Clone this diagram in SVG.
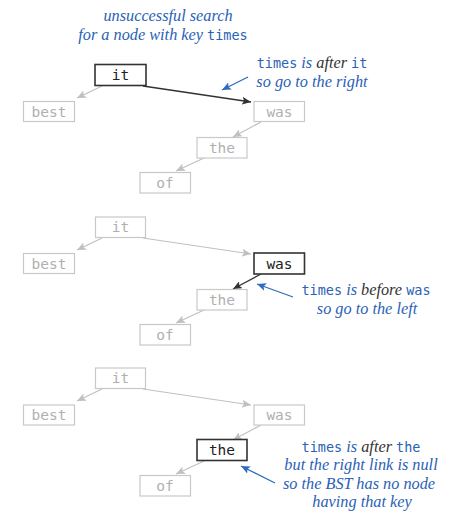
<svg xmlns="http://www.w3.org/2000/svg" width="464" height="516" viewBox="0 0 464 516">
<defs>
<style>
.box{fill:#fff;stroke:#c8c8c8;stroke-width:1.2}
.hbox{fill:#fff;stroke:#333;stroke-width:1.6}
.lbl{font-family:"DejaVu Sans Mono","Liberation Mono",monospace;font-size:14.5px;fill:#b0b0b0;text-anchor:middle}
.hlbl{font-family:"DejaVu Sans Mono","Liberation Mono",monospace;font-size:14.5px;fill:#222;text-anchor:middle}
.edge{stroke:#c0c0c0;stroke-width:1.2;fill:none;marker-end:url(#ag)}
.hedge{stroke:#333;stroke-width:1.3;fill:none;marker-end:url(#ad)}
.bedge{stroke:#2f6bc0;stroke-width:1.3;fill:none;marker-end:url(#ab)}
.note{font-family:"Liberation Serif",serif;font-style:italic;font-size:16.3px;fill:#2a62b5;text-anchor:middle}
.mono{font-family:"DejaVu Sans Mono","Liberation Mono",monospace;font-style:normal;font-size:13.5px}
.dk{fill:#333}
</style>
<marker id="ag" markerWidth="10" markerHeight="8" refX="9" refY="4" orient="auto" markerUnits="userSpaceOnUse"><path d="M0,0 L9,4 L0,8 L2,4 z" fill="#c0c0c0"/></marker>
<marker id="ad" markerWidth="10" markerHeight="8" refX="9" refY="4" orient="auto" markerUnits="userSpaceOnUse"><path d="M0,0 L9,4 L0,8 L2,4 z" fill="#333"/></marker>
<marker id="ab" markerWidth="10" markerHeight="8" refX="9" refY="4" orient="auto" markerUnits="userSpaceOnUse"><path d="M0,0 L9,4 L0,8 L2,4 z" fill="#2f6bc0"/></marker>
</defs>

<text class="note" x="168" y="21">unsuccessful search</text>
<text class="note" x="163" y="40">for a node with key <tspan class="mono">times</tspan></text>

<g id="connectors">
<!-- tree 1 -->
<line class="edge" x1="102" y1="86" x2="77" y2="98"/>
<line class="hedge" x1="143" y1="86" x2="251" y2="102"/>
<line class="edge" x1="261" y1="122" x2="233" y2="137"/>
<line class="edge" x1="204" y1="158" x2="176" y2="171"/>
<line class="bedge" x1="248" y1="77" x2="222" y2="90"/>
<!-- tree 2 -->
<line class="edge" x1="102" y1="238" x2="77" y2="250"/>
<line class="edge" x1="143" y1="238" x2="251" y2="254"/>
<line class="hedge" x1="261" y1="274" x2="233" y2="289"/>
<line class="edge" x1="204" y1="310" x2="176" y2="323"/>
<line class="bedge" x1="293" y1="297" x2="257" y2="284"/>
<!-- tree 3 -->
<line class="edge" x1="102" y1="389" x2="77" y2="401"/>
<line class="edge" x1="143" y1="389" x2="251" y2="405"/>
<line class="edge" x1="261" y1="425" x2="233" y2="440"/>
<line class="edge" x1="204" y1="461" x2="176" y2="474"/>
<line class="bedge" x1="275" y1="483" x2="241" y2="466"/>
</g>

<!-- tree 1 -->
<g id="t1-it"><rect class="hbox" x="95" y="64.5" width="51" height="21"/><text class="hlbl" x="120.5" y="80">it</text></g>
<g id="t1-best"><rect class="box" x="23.5" y="101.5" width="51" height="20"/><text class="lbl" x="49" y="116.5">best</text></g>
<g id="t1-was"><rect class="box" x="254" y="101.5" width="50.5" height="20"/><text class="lbl" x="279.5" y="116.5">was</text></g>
<g id="t1-the"><rect class="box" x="197" y="137.5" width="50" height="20.5"/><text class="lbl" x="222" y="152.5">the</text></g>
<g id="t1-of"><rect class="box" x="140" y="172.5" width="50.5" height="20.5"/><text class="lbl" x="165" y="187.5">of</text></g>
<text class="note" x="312" y="68"><tspan class="mono">times</tspan> is <tspan class="dk">after</tspan> <tspan class="mono">it</tspan></text>
<text class="note" x="312" y="87">so go to the right</text>

<!-- tree 2 -->
<g id="t2-it"><rect class="box" x="95.5" y="217" width="50" height="20.5"/><text class="lbl" x="120.5" y="232">it</text></g>
<g id="t2-best"><rect class="box" x="23.5" y="253.5" width="51" height="20"/><text class="lbl" x="49" y="268.5">best</text></g>
<g id="t2-was"><rect class="hbox" x="254" y="253" width="50.5" height="21"/><text class="hlbl" x="279.5" y="268.5">was</text></g>
<g id="t2-the"><rect class="box" x="197" y="289.5" width="50" height="20.5"/><text class="lbl" x="222" y="304.5">the</text></g>
<g id="t2-of"><rect class="box" x="140" y="324.5" width="50.5" height="20.5"/><text class="lbl" x="165" y="339.5">of</text></g>
<text class="note" x="366" y="295"><tspan class="mono">times</tspan> is <tspan class="dk">before</tspan> <tspan class="mono">was</tspan></text>
<text class="note" x="367" y="313.5">so go to the left</text>

<!-- tree 3 -->
<g id="t3-it"><rect class="box" x="95.5" y="368" width="50" height="20.5"/><text class="lbl" x="120.5" y="383">it</text></g>
<g id="t3-best"><rect class="box" x="23.5" y="405" width="51" height="20"/><text class="lbl" x="49" y="420">best</text></g>
<g id="t3-was"><rect class="box" x="254" y="405" width="50.5" height="20"/><text class="lbl" x="279.5" y="420">was</text></g>
<g id="t3-the"><rect class="hbox" x="197" y="439.5" width="50" height="21"/><text class="hlbl" x="222" y="455">the</text></g>
<g id="t3-of"><rect class="box" x="140" y="475.5" width="50.5" height="20.5"/><text class="lbl" x="165" y="490.5">of</text></g>
<text class="note" x="361" y="452"><tspan class="mono">times</tspan> is <tspan class="dk">after</tspan>  <tspan class="mono">the</tspan></text>
<text class="note" x="361" y="470">but the right link is null</text>
<text class="note" x="359" y="488.5">so the BST has no node</text>
<text class="note" x="362" y="507">having that key</text>
</svg>
